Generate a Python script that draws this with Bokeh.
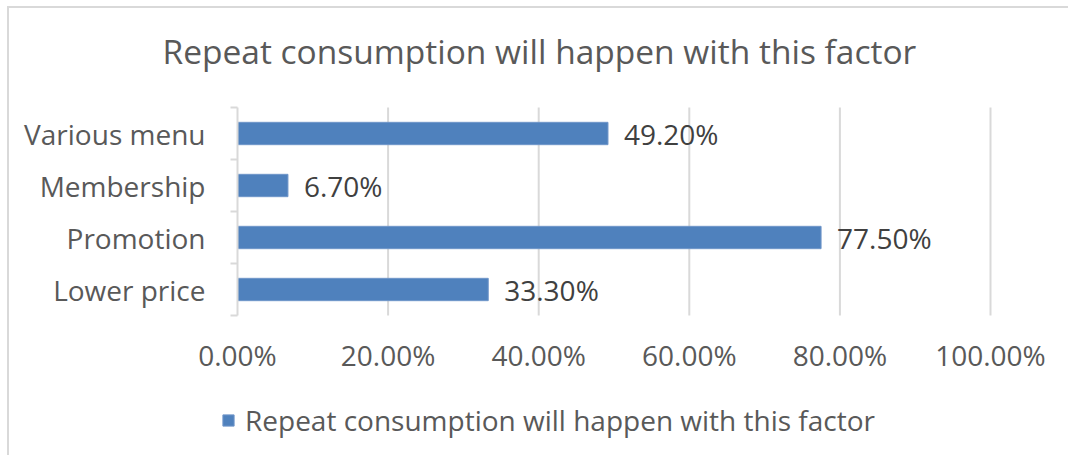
from bokeh.plotting import figure
from bokeh.models import ColumnDataSource, FixedTicker, Range1d, Legend, LegendItem, LabelSet
from bokeh.core.properties import value
from bokeh.embed import file_html
from bokeh.resources import INLINE

categories = ["Lower price", "Promotion", "Membership", "Various menu"]
values = [0.333, 0.775, 0.067, 0.492]
value_labels = ["33.30%", "77.50%", "6.70%", "49.20%"]
x_ticks = [0.0, 0.2, 0.4, 0.6, 0.8, 1.0]
x_tick_labels = ["0.00%", "20.00%", "40.00%", "60.00%", "80.00%", "100.00%"]
series_name = "Repeat consumption will happen with this factor"

FONT = "Open Sans"
GREY = "#595959"
GRID = "#d9d9d9"

# layout (canvas pixels)
W, H = 1061, 449
PLOT_LEFT, PLOT_RIGHT = 228, 981      # where 0% and 100% fall
FRAME_TOP = 72                          # top of drawing frame (below title panel)
TOP = 99                                # top of category area
ROW = 52                                # pixels per category
n = len(categories)
px_per_unit = PLOT_RIGHT - PLOT_LEFT
x_start = -PLOT_LEFT / px_per_unit
x_end = (W - PLOT_LEFT) / px_per_unit
y_end = n + 0.5 + (TOP - FRAME_TOP) / ROW
y_start = 0.5 - (H - TOP - n * ROW) / ROW

positions = [i + 1 for i in range(n)]
src = ColumnDataSource(dict(y=positions, v=values, lab=value_labels, cat=categories))
grid_src = ColumnDataSource(dict(x=x_ticks[1:], y0=[0.5] * (len(x_ticks) - 1),
                                 y1=[n + 0.5] * (len(x_ticks) - 1)))

p = figure(width=W, height=H, output_backend="svg", toolbar_location=None,
           x_range=Range1d(x_start, x_end), y_range=Range1d(y_start, y_end),
           min_border_left=0, min_border_right=0, min_border_top=FRAME_TOP, min_border_bottom=0)
p.styles = {"margin-left": "7px", "margin-top": "6px",
            "border-left": "2px solid #d9d9d9", "border-top": "2px solid #d9d9d9"}
p.outline_line_color = None
p.background_fill_color = "white"
p.border_fill_color = "white"
p.xgrid.grid_line_color = None
p.ygrid.grid_line_color = None

p.title.text = series_name
p.title.text_font = FONT
p.title.text_font_size = "33.5px"
p.title.text_font_style = "normal"
p.title.text_color = GREY
p.title.align = "left"
p.title.vertical_align = "top"
p.title.offset = PLOT_LEFT - 75
p.title.standoff = 10

# vertical gridlines
p.segment(x0="x", y0="y0", x1="x", y1="y1", source=grid_src, line_color=GRID, line_width=2)

# x axis
p.xaxis.fixed_location = 0.5
p.xaxis.ticker = FixedTicker(ticks=x_ticks)
p.xaxis.major_label_overrides = {t: l for t, l in zip(x_ticks, x_tick_labels)}
p.xaxis.axis_line_color = None
p.xaxis.major_tick_line_color = None
p.xaxis.minor_tick_line_color = None
p.xaxis.major_label_text_font = FONT
p.xaxis.major_label_text_font_size = "28px"
p.xaxis.major_label_text_color = GREY
p.xaxis.major_label_standoff = 14

# y axis
boundaries = [b + 0.5 for b in range(n + 1)]
p.yaxis.fixed_location = 0
p.yaxis.bounds = (0.5, n + 0.5)
p.yaxis.ticker = FixedTicker(ticks=positions, minor_ticks=boundaries)
p.yaxis.major_label_overrides = {pos: c for pos, c in zip(positions, categories)}
p.yaxis.axis_line_color = GRID
p.yaxis.axis_line_width = 2
p.yaxis.major_tick_line_color = None
p.yaxis.minor_tick_line_color = GRID
p.yaxis.minor_tick_line_width = 2
p.yaxis.minor_tick_out = 7
p.yaxis.minor_tick_in = 0
p.yaxis.major_label_text_font = FONT
p.yaxis.major_label_text_font_size = "28px"
p.yaxis.major_label_text_color = GREY
p.yaxis.major_label_standoff = 25

bars = p.hbar(y="y", right="v", left=0, height=0.43, source=src,
              fill_color="#4F81BD", line_color="#7096C9", line_width=1)

labels = LabelSet(x="v", y="y", text="lab", source=src, x_offset=16, y_offset=0,
                  text_font=value(FONT), text_font_size=value("28px"), text_color="#404040",
                  text_baseline="middle", text_align="left")
p.add_layout(labels)

legend = Legend(items=[LegendItem(label=series_name, renderers=[bars])],
                orientation="horizontal", location=(212, 18),
                label_text_font=FONT, label_text_font_size="28px", label_text_color=GREY,
                glyph_width=14, glyph_height=14, label_standoff=10,
                border_line_color=None, background_fill_alpha=0, padding=0, margin=0)
p.add_layout(legend, "center")

open("out.html", "w").write(file_html(p, INLINE))
